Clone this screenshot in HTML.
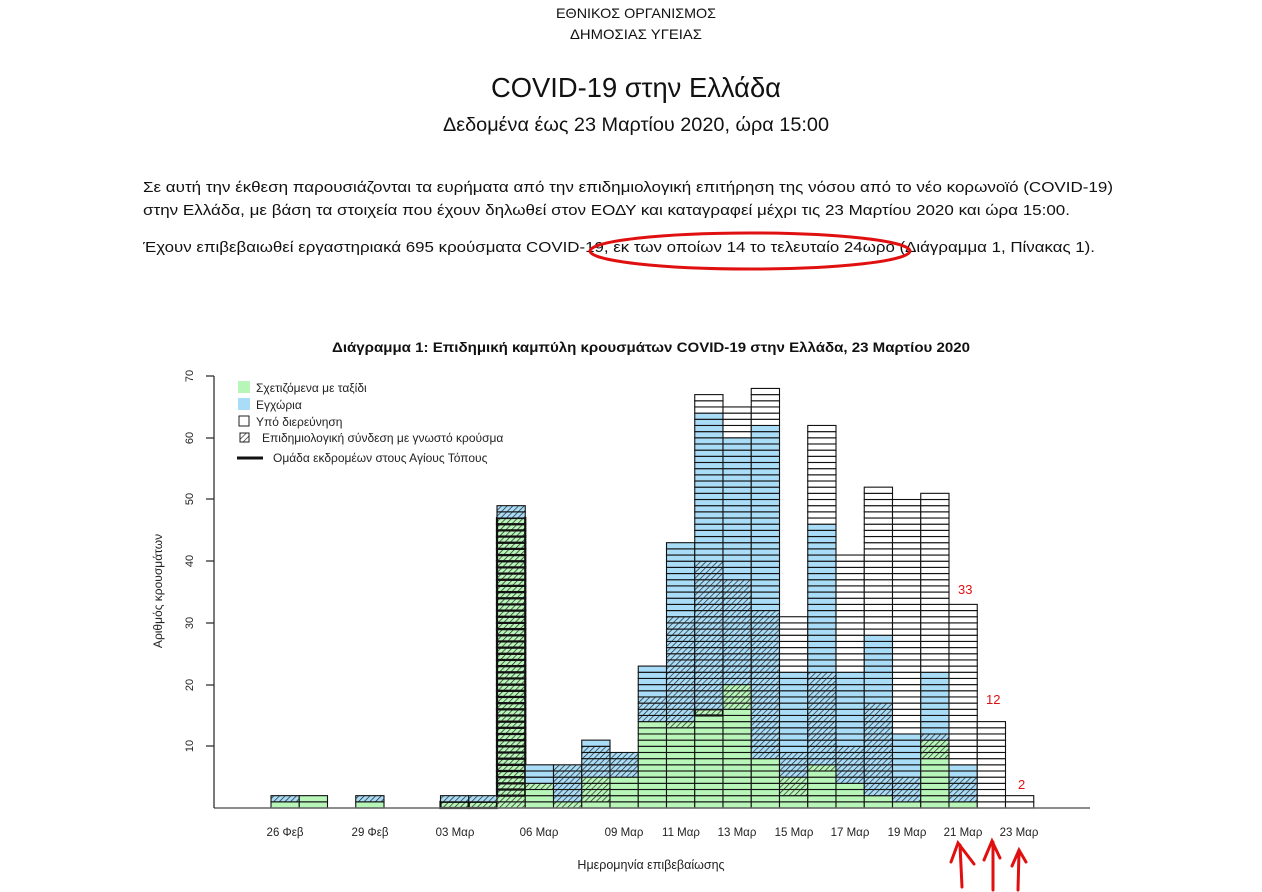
<!DOCTYPE html>
<html><head><meta charset="utf-8">
<style>
html,body{margin:0;padding:0;background:#fff;}
svg{display:block;}
text{font-family:"Liberation Sans","DejaVu Sans",sans-serif;}
</style></head>
<body>
<svg id="s" width="1262" height="892" viewBox="0 0 1262 892" xmlns="http://www.w3.org/2000/svg">
<defs>
<pattern id="hg" width="4" height="4" patternUnits="userSpaceOnUse" patternTransform="rotate(45)">
<rect width="4" height="4" fill="#b8f5b8"/><line x1="0" y1="0" x2="0" y2="4" stroke="#222" stroke-width="1.4"/></pattern>
<pattern id="hb" width="4" height="4" patternUnits="userSpaceOnUse" patternTransform="rotate(45)">
<rect width="4" height="4" fill="#a9dcf7"/><line x1="0" y1="0" x2="0" y2="4" stroke="#222" stroke-width="1.4"/></pattern>
<pattern id="hl" width="4" height="4" patternUnits="userSpaceOnUse" patternTransform="rotate(45)">
<rect width="4" height="4" fill="#fff"/><line x1="0" y1="0" x2="0" y2="4" stroke="#222" stroke-width="1.4"/></pattern>
</defs>
<rect width="1262" height="892" fill="#fff"/>
<text x="636" y="18" text-anchor="middle" font-size="14" textLength="160" lengthAdjust="spacingAndGlyphs" fill="#111">ΕΘΝΙΚΟΣ ΟΡΓΑΝΙΣΜΟΣ</text>
<text x="636" y="39" text-anchor="middle" font-size="14" textLength="132" lengthAdjust="spacingAndGlyphs" fill="#111">ΔΗΜΟΣΙΑΣ ΥΓΕΙΑΣ</text>
<text x="636" y="97" text-anchor="middle" font-size="28" textLength="290" lengthAdjust="spacingAndGlyphs" fill="#111">COVID-19 στην Ελλάδα</text>
<text x="636" y="131" text-anchor="middle" font-size="19" textLength="386" lengthAdjust="spacingAndGlyphs" fill="#111">Δεδομένα έως 23 Μαρτίου 2020, ώρα 15:00</text>
<text x="143" y="192" font-size="15" textLength="970" lengthAdjust="spacingAndGlyphs" fill="#111">Σε αυτή την έκθεση παρουσιάζονται τα ευρήματα από την επιδημιολογική επιτήρηση της νόσου από το νέο κορωνοϊό (COVID-19)</text>
<text x="143" y="215" font-size="15" textLength="927" lengthAdjust="spacingAndGlyphs" fill="#111">στην Ελλάδα, με βάση τα στοιχεία που έχουν δηλωθεί στον ΕΟΔΥ και καταγραφεί μέχρι τις 23 Μαρτίου 2020 και ώρα 15:00.</text>
<text x="143" y="252" font-size="15" textLength="952" lengthAdjust="spacingAndGlyphs" fill="#111">Έχουν επιβεβαιωθεί εργαστηριακά 695 κρούσματα COVID-19, εκ των οποίων 14 το τελευταίο 24ωρο (Διάγραμμα 1, Πίνακας 1).</text>
<ellipse cx="750" cy="251" rx="160" ry="18" fill="none" stroke="#e01010" stroke-width="3"/>
<text x="651" y="352" text-anchor="middle" font-size="14" font-weight="bold" textLength="638" lengthAdjust="spacingAndGlyphs" fill="#111">Διάγραμμα 1: Επιδημική καμπύλη κρουσμάτων COVID-19 στην Ελλάδα, 23 Μαρτίου 2020</text>
<g id="bars"></g>
<!-- axes -->
<line x1="214" y1="808" x2="1090" y2="808" stroke="#666" stroke-width="1.5"/>
<line x1="214" y1="376" x2="214" y2="808" stroke="#222" stroke-width="1.2"/>
<g stroke="#222" stroke-width="1.2">
<line x1="206" y1="376" x2="214" y2="376"/><line x1="206" y1="438" x2="214" y2="438"/><line x1="206" y1="499" x2="214" y2="499"/><line x1="206" y1="561" x2="214" y2="561"/><line x1="206" y1="623" x2="214" y2="623"/><line x1="206" y1="685" x2="214" y2="685"/><line x1="206" y1="746" x2="214" y2="746"/>
</g>
<g font-size="11" fill="#222" text-anchor="middle">
<text transform="translate(193,376) rotate(-90)">70</text>
<text transform="translate(193,438) rotate(-90)">60</text>
<text transform="translate(193,499) rotate(-90)">50</text>
<text transform="translate(193,561) rotate(-90)">40</text>
<text transform="translate(193,623) rotate(-90)">30</text>
<text transform="translate(193,685) rotate(-90)">20</text>
<text transform="translate(193,746) rotate(-90)">10</text>
</g>
<text transform="translate(162,591) rotate(-90)" font-size="12" text-anchor="middle" fill="#222">Αριθμός κρουσμάτων</text>
<g font-size="11.5" fill="#222" text-anchor="middle">
<text x="285" y="836">26 Φεβ</text><text x="370" y="836">29 Φεβ</text><text x="455" y="836">03 Μαρ</text><text x="539" y="836">06 Μαρ</text>
<text x="624" y="836">09 Μαρ</text><text x="681" y="836">11 Μαρ</text><text x="737" y="836">13 Μαρ</text><text x="794" y="836">15 Μαρ</text>
<text x="850" y="836">17 Μαρ</text><text x="907" y="836">19 Μαρ</text><text x="963" y="836">21 Μαρ</text><text x="1019" y="836">23 Μαρ</text>
</g>
<text x="651" y="869" text-anchor="middle" font-size="12.5" fill="#222">Ημερομηνία επιβεβαίωσης</text>
<!-- legend -->
<rect x="238" y="381" width="12" height="12" fill="#b8f5b8"/>
<text x="256" y="392" font-size="12" fill="#222">Σχετιζόμενα με ταξίδι</text>
<rect x="238" y="398" width="12" height="12" fill="#a9dcf7"/>
<text x="256" y="409" font-size="12" fill="#222">Εγχώρια</text>
<rect x="239" y="416" width="10" height="10" fill="#fff" stroke="#222"/>
<text x="256" y="426" font-size="12" fill="#222">Υπό διερεύνηση</text>
<rect x="240" y="433" width="9" height="9" fill="url(#hl)" stroke="#222"/>
<text x="262" y="442" font-size="12" fill="#222">Επιδημιολογική σύνδεση με γνωστό κρούσμα</text>
<line x1="237" y1="458" x2="263" y2="458" stroke="#111" stroke-width="3"/>
<text x="273" y="462" font-size="12" fill="#222">Ομάδα εκδρομέων στους Αγίους Τόπους</text>
<!-- annotations -->
<g fill="#e01010" font-size="13">
<text x="958" y="594">33</text><text x="986" y="704">12</text><text x="1018" y="789">2</text>
</g>
<g stroke="#e01010" stroke-width="3" fill="none" stroke-linecap="round">
<path d="M962 887 L960 845 M951 862 L958 843 L974 864"/>
<path d="M993 890 L993 842 M984 860 L992 841 L1000 858"/>
<path d="M1018 890 L1019 852 M1012 866 L1019 850 L1026 862"/>
</g>
</svg>
<script>
var data=[
[['G',1],['BH',1]],
[['G',2]],
[],
[['G',1],['BH',1]],
[],[],
[['GX',1],['BH',1]],
[['GX',1],['BH',1]],
[['GH',2],['GX',45],['BH',2]],
[['G',3],['GH',1],['B',3]],
[['GH',1],['BH',6]],
[['G',1],['GH',4],['BH',5],['B',1]],
[['G',5],['BH',4]],
[['G',14],['BH',4],['B',5]],
[['G',13],['GH',1],['BH',17],['B',12]],
[['G',15],['GX',1],['BH',24],['B',24],['W',3]],
[['G',16],['GH',4],['BH',17],['B',23],['W',5]],
[['G',8],['BH',24],['B',30],['W',6]],
[['G',2],['GH',3],['BH',4],['B',13],['W',9]],
[['G',6],['GH',1],['BH',15],['B',24],['W',16]],
[['G',4],['BH',6],['B',12],['W',19]],
[['G',2],['BH',15],['B',11],['W',24]],
[['G',1],['BH',4],['B',7],['W',38]],
[['G',8],['GH',3],['BH',1],['B',10],['W',29]],
[['G',1],['BH',4],['B',2],['W',26]],
[['W',14]],
[['W',2]]
];
var fills={G:'#b8f5b8',GH:'url(#hg)',GX:'url(#hg)',B:'#a9dcf7',BH:'url(#hb)',W:'#fff'};
var s=6.17,base=808,x0=271,w=28.25,h='';
data.forEach(function(d,i){
  var x=x0+i*w,n=0;
  d.forEach(function(seg){
    for(var k=0;k<seg[1];k++){
      var y=base-(n+1)*s;
      var sw=seg[0]=='GX'?2.2:1.1;
      h+='<rect x="'+x.toFixed(2)+'" y="'+y.toFixed(2)+'" width="'+w.toFixed(2)+'" height="'+s.toFixed(2)+'" fill="'+fills[seg[0]]+'" stroke="#111" stroke-width="'+sw+'"/>';
      n++;
    }
  });
});
document.getElementById('bars').innerHTML=h;
</script>
</body></html>
